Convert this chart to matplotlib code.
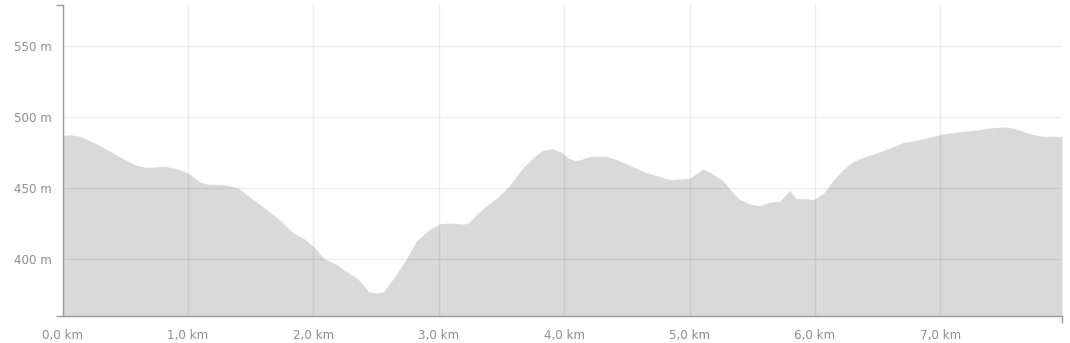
import numpy as np
import matplotlib
matplotlib.use('Agg')
import matplotlib.pyplot as plt
from matplotlib.ticker import FuncFormatter, FixedLocator

# ── elevation profile ───────────────────────────────────────────
dist_km = [0.00, 0.06, 0.14, 0.27, 0.38, 0.485, 0.59, 0.67, 0.82, 0.91,
           1.00, 1.10, 1.15, 1.31, 1.40, 1.52, 1.63, 1.73, 1.84, 1.93,
           2.00, 2.09, 2.19, 2.29, 2.35, 2.44, 2.51, 2.56, 2.64, 2.73,
           2.82, 2.92, 3.01, 3.09, 3.20, 3.24, 3.29, 3.38, 3.48, 3.57,
           3.67, 3.75, 3.83, 3.91, 3.98, 4.03, 4.09, 4.13, 4.21, 4.33,
           4.42, 4.63, 4.84, 5.00, 5.11, 5.16, 5.26, 5.32, 5.40, 5.48,
           5.56, 5.63, 5.72, 5.80, 5.85, 5.93, 5.99, 6.07, 6.15, 6.23,
           6.31, 6.39, 6.53, 6.61, 6.71, 6.81, 6.94, 7.02, 7.16, 7.29,
           7.40, 7.50, 7.57, 7.64, 7.72, 7.82, 7.95, 7.97]
elev_m = [487.0, 487.5, 486.3, 481.2, 475.8, 470.4, 465.9, 464.5, 465.2, 463.6,
          460.6, 454.0, 452.8, 452.1, 450.0, 441.8, 434.7, 427.7, 418.3, 414.1,
          408.9, 400.0, 396.0, 389.6, 386.6, 377.2, 376.0, 377.2, 386.6, 398.3,
          412.4, 420.6, 424.9, 425.4, 424.6, 425.4, 430.5, 437.5, 444.1, 452.3,
          464.1, 471.1, 476.5, 477.5, 475.1, 471.1, 469.2, 469.9, 472.3, 472.3,
          469.9, 461.7, 455.8, 456.8, 463.4, 461.0, 455.8, 449.3, 441.8, 438.9,
          437.5, 439.9, 440.8, 448.3, 442.5, 442.5, 441.8, 446.5, 455.8, 463.4,
          468.7, 471.8, 475.8, 478.6, 482.1, 483.5, 486.3, 488.0, 489.6, 490.8,
          492.2, 493.0, 492.2, 490.4, 488.0, 486.3, 486.3, 486.3]

x_ticks = [0, 1, 2, 3, 4, 5, 6, 7]
y_ticks = [400, 450, 500, 550]
y_min, y_max = 360, 579

W, H = 1070, 343
fig = plt.figure(figsize=(W / 100, H / 100), dpi=100)
ax = fig.add_axes([62.5 / W, (H - 316) / H, (1062 - 62.5) / W, (316 - 4.5) / H])

ax.fill_between(dist_km, elev_m, y_min, color='#d9d9d9', linewidth=0, zorder=1)

ax.set_xlim(0, dist_km[-1])
ax.set_ylim(y_min, y_max)

# grid drawn on top of the area, translucent
ax.set_axisbelow(False)
ax.set_xticks(x_ticks)
ax.set_yticks(y_ticks)
ax.grid(True, color='black', alpha=0.07, linewidth=1)

fmt_km = FuncFormatter(lambda v, p: f'{v:.1f}'.replace('.', ',') + ' km')
fmt_m = FuncFormatter(lambda v, p: f'{v:.0f} m')
ax.xaxis.set_major_formatter(fmt_km)
ax.yaxis.set_major_formatter(fmt_m)

label_color = '#8e8e8e'
ax.tick_params(axis='both', which='major', length=0, labelsize=8.6, colors=label_color)
ax.tick_params(axis='x', which='major', pad=9.7)
ax.tick_params(axis='y', which='major', pad=7.8)

# outer ticks at the ends of each axis
ax.xaxis.set_minor_locator(FixedLocator([0, dist_km[-1]]))
ax.yaxis.set_minor_locator(FixedLocator([y_min, y_max]))
ax.tick_params(which='minor', length=5, width=1, color='#9a9a9a')

for side in ['top', 'right']:
    ax.spines[side].set_visible(False)
for side in ['left', 'bottom']:
    ax.spines[side].set_color('#9a9a9a')
    ax.spines[side].set_linewidth(1)
    ax.spines[side].set_zorder(3)

fig.savefig('out.png', dpi=100)
